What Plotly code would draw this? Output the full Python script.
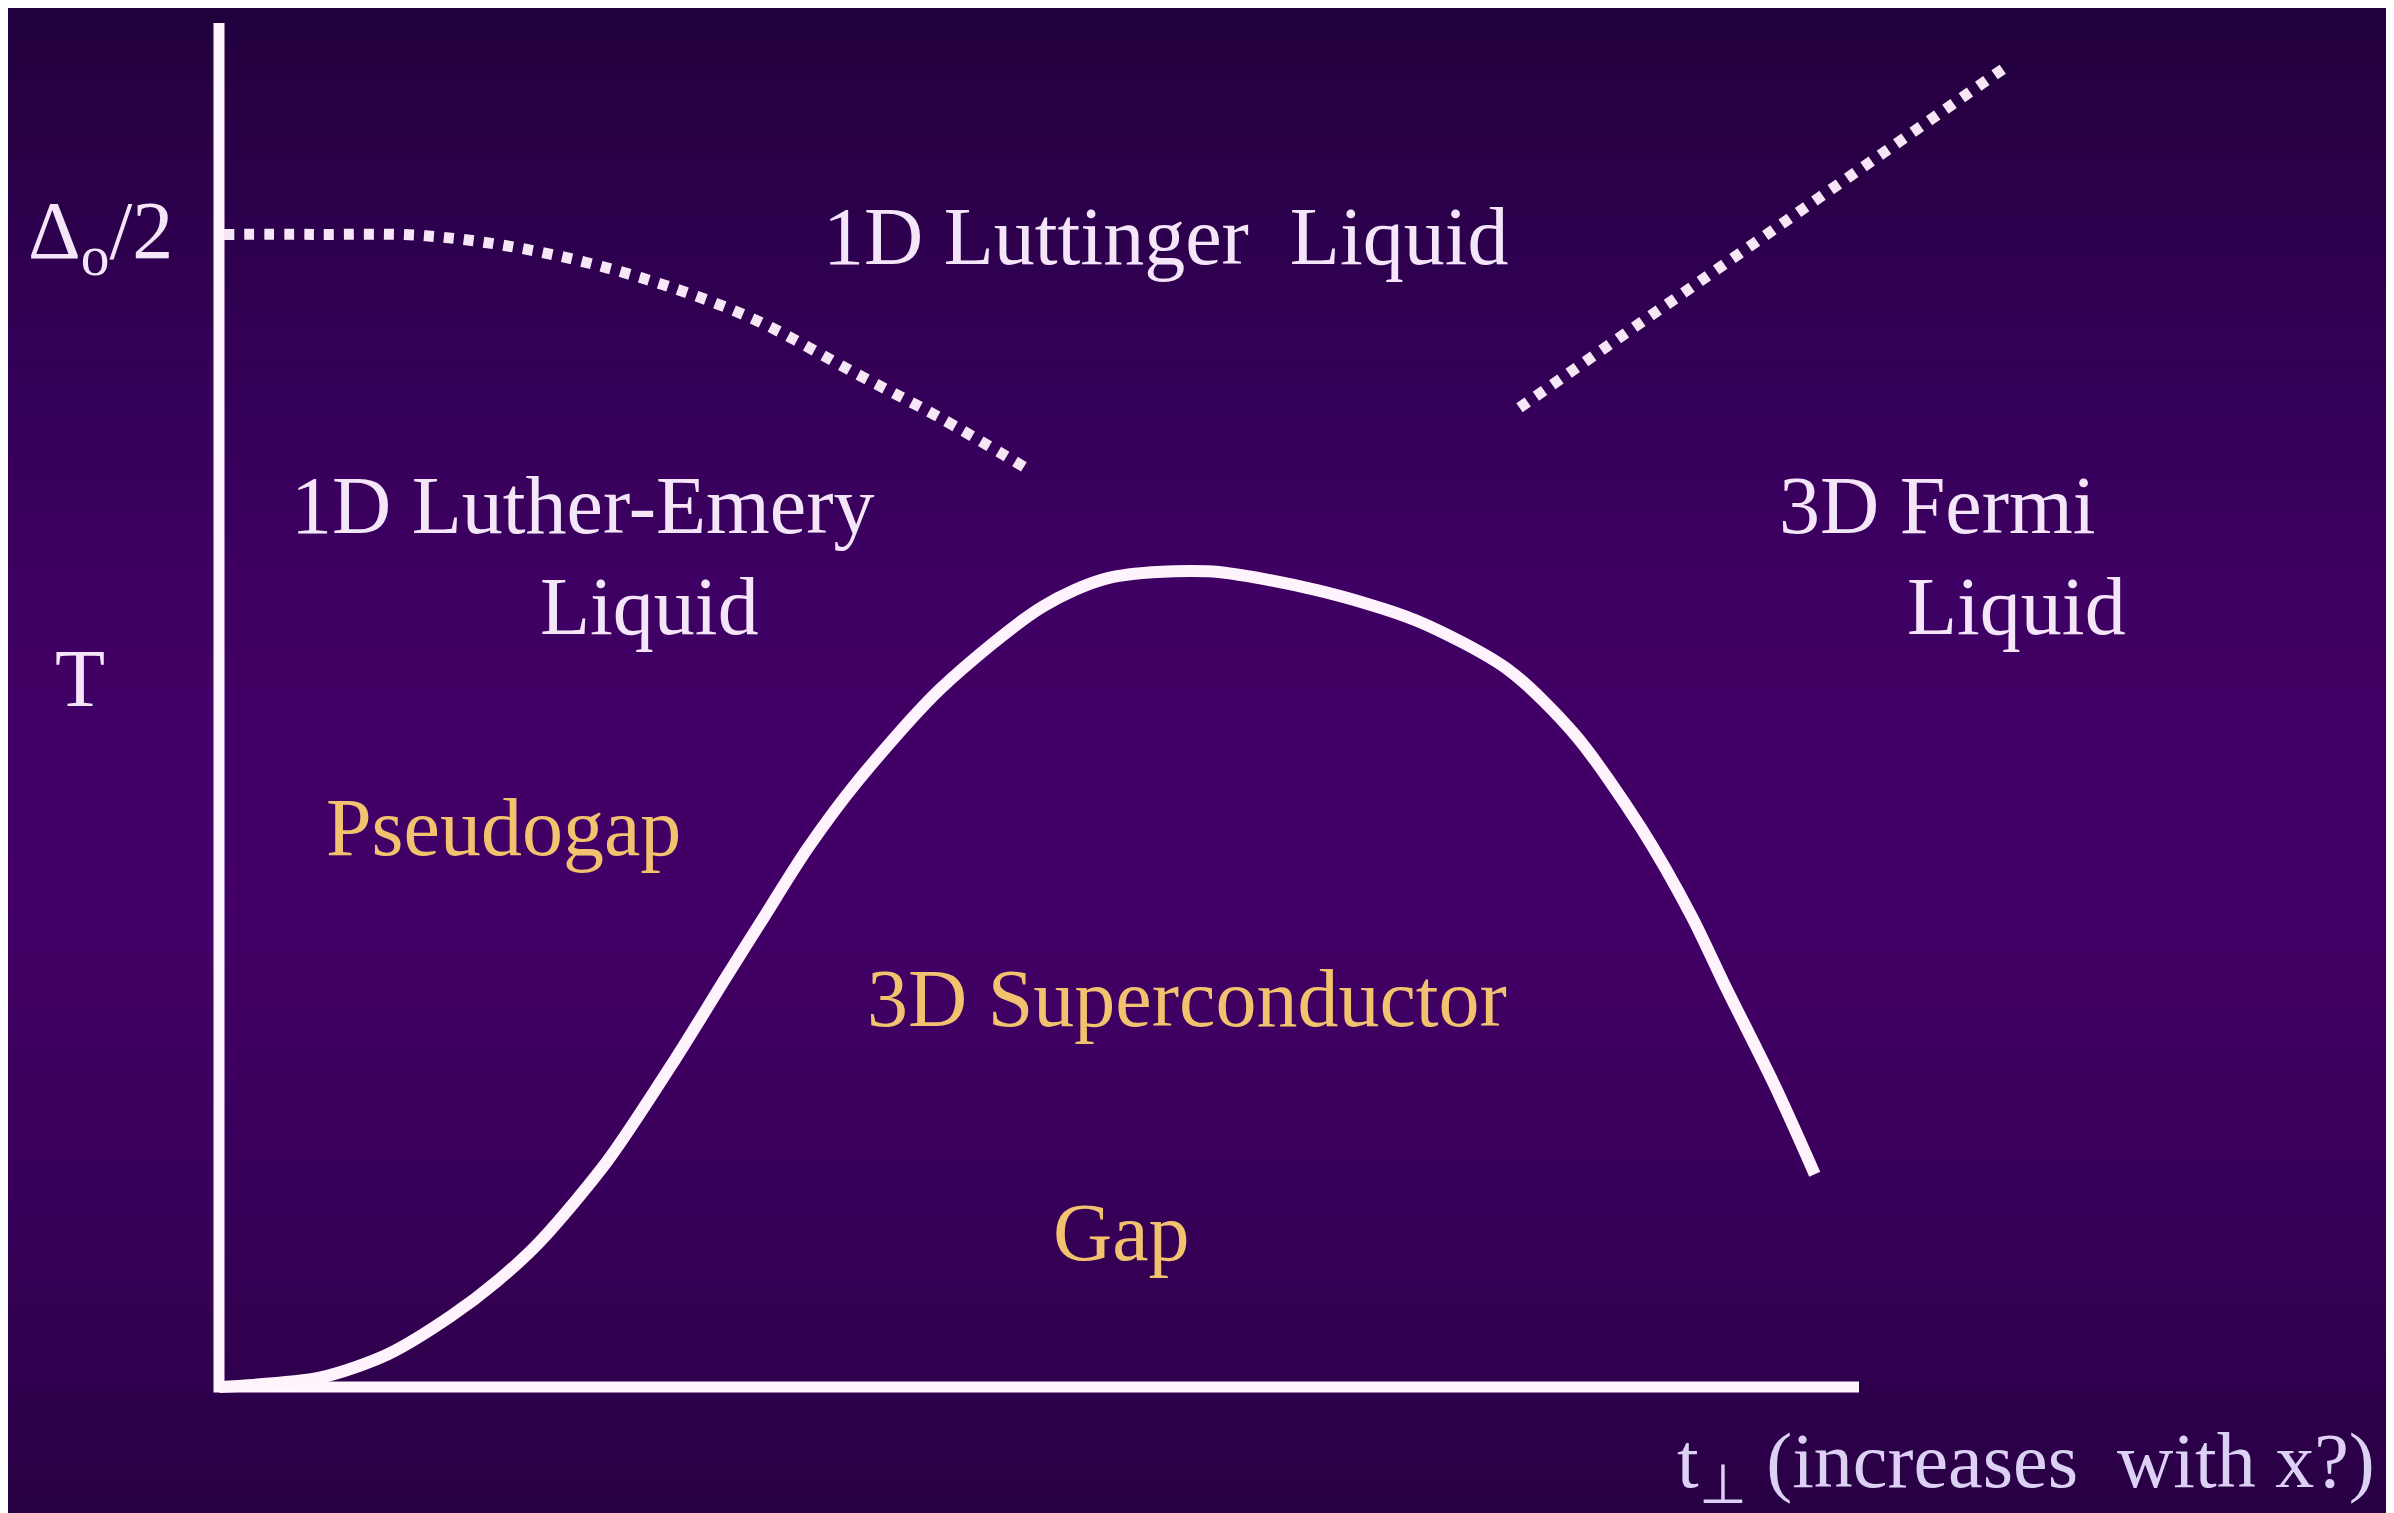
import plotly.graph_objects as go

# ---- data (schematic units: t_perp along x, T along y; axes span 0..10) ----
axis_t = [0, 0, 10]
axis_T = [10, 0, 0]

tc_t = [0.0, 0.62, 1.03, 1.415, 1.70, 1.96, 2.37, 2.78, 3.09, 3.31, 3.59, 3.90, 4.40,
        5.02, 5.42, 6.03, 6.70, 7.30, 7.86, 8.27, 8.67, 8.98, 9.18, 9.49, 9.73]
tc_T = [0.0, 0.07, 0.24, 0.52, 0.78, 1.07, 1.66, 2.40, 3.00, 3.42, 3.95, 4.45, 5.12,
        5.72, 5.93, 5.98, 5.84, 5.62, 5.26, 4.78, 4.10, 3.45, 2.95, 2.20, 1.56]

le_t = [0.03, 0.58, 1.26, 1.92, 2.58, 3.24, 3.90, 4.39, 4.93]
le_T = [8.45, 8.45, 8.44, 8.33, 8.13, 7.84, 7.42, 7.11, 6.73]

fl_t = [7.93, 10.91]
fl_T = [7.18, 9.69]

# labels: (text, x_px, y_px, color, size)
labels = [
    ("Δ<sub>o</sub>/2", 92, 228, "#f4e6f8", 82),
    ("1D Luttinger  Liquid", 1158, 228, "#f4e6f8", 82),
    ("1D Luther-Emery", 575, 498, "#f4e6f8", 82),
    ("Liquid", 641, 598, "#f4e6f8", 82),
    ("3D Fermi", 1929, 498, "#f4e6f8", 82),
    ("Liquid", 2008, 598, "#f4e6f8", 82),
    ("T", 72, 671, "#f4e6f8", 82),
    ("Pseudogap", 495, 819, "#f2c26e", 82),
    ("3D Superconductor", 1179, 990, "#f2c26e", 82),
    ("Gap", 1113, 1224, "#f2c26e", 82),
    ("t<sub>⊥</sub> (increases  with x?)", 2018, 1458, "#dcd0f4", 78),
]

W, H = 2394, 1513

fig = go.Figure()

fig.add_trace(go.Scatter(x=axis_t, y=axis_T, mode="lines",
                         line=dict(color="#fff6ff", width=11), hoverinfo="skip"))
fig.add_trace(go.Scatter(x=tc_t, y=tc_T, mode="lines",
                         line=dict(color="#fff4fd", width=12, shape="spline", smoothing=0.8),
                         hoverinfo="skip"))
fig.add_trace(go.Scatter(x=le_t, y=le_T, mode="lines",
                         line=dict(color="#f6e6f6", width=11, dash="10px,10px", shape="spline",
                                   smoothing=1.0), hoverinfo="skip"))
fig.add_trace(go.Scatter(x=fl_t, y=fl_T, mode="lines",
                         line=dict(color="#f6e6f6", width=11, dash="10px,10px"), hoverinfo="skip"))

# background vertical gradient
stops = [(0, (34, 0, 60)), (300, (48, 0, 82)), (600, (63, 0, 100)), (900, (66, 0, 102)),
         (1150, (58, 0, 92)), (1350, (48, 0, 78)), (1513, (40, 0, 68))]
shapes = []
n = 80
for i in range(n):
    y0 = H * i / n
    y1 = H * (i + 1) / n
    ym = (y0 + y1) / 2
    for k in range(len(stops) - 1):
        if stops[k][0] <= ym <= stops[k + 1][0]:
            f = (ym - stops[k][0]) / (stops[k + 1][0] - stops[k][0])
            c = [round(stops[k][1][j] + f * (stops[k + 1][1][j] - stops[k][1][j])) for j in range(3)]
            break
    shapes.append(dict(type="rect", xref="paper", yref="paper", x0=0, x1=1,
                       y0=1 - y1 / H - 0.001, y1=1 - y0 / H + 0.001, layer="below",
                       line=dict(width=0), fillcolor=f"rgb({c[0]},{c[1]},{c[2]})"))

annotations = []
for text, xp, yp, col, sz in labels:
    annotations.append(dict(text=text, x=xp / W, y=1 - yp / H, xref="paper", yref="paper",
                            xanchor="center", yanchor="middle", showarrow=False,
                            font=dict(family="Liberation Serif", size=sz, color=col)))

# axes map: origin at pixel (211,1379), t=10 at x px 1851, T=10 at y px 15
px_t = (1851 - 211) / 10
px_T = (1379 - 15) / 10
fig.update_layout(
    width=W, height=H,
    margin=dict(l=0, r=0, t=0, b=0),
    paper_bgcolor="#3a005c", plot_bgcolor="rgba(0,0,0,0)",
    showlegend=False,
    xaxis=dict(range=[-211 / px_t, (W - 211) / px_t], visible=False, fixedrange=True),
    yaxis=dict(range=[-(H - 1379) / px_T, (1379) / px_T], visible=False, fixedrange=True),
    shapes=shapes, annotations=annotations,
)

fig.write_html("out.html")
